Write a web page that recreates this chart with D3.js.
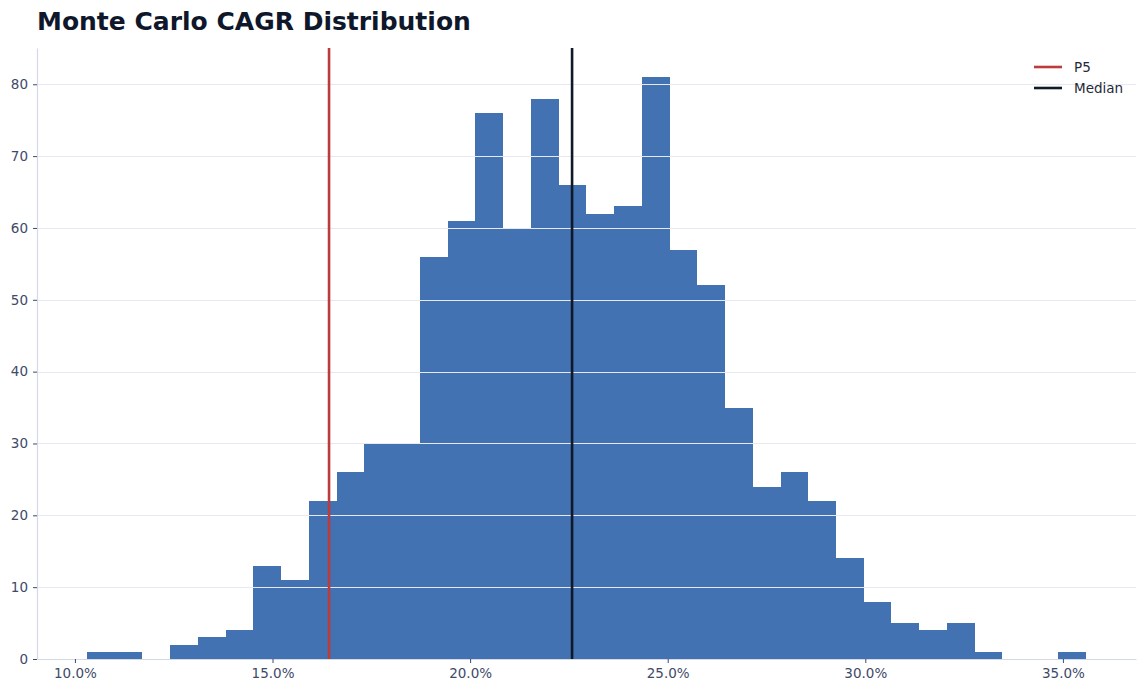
<!DOCTYPE html>
<html>
<head>
<meta charset="utf-8">
<script src="https://cdn.jsdelivr.net/npm/d3@7"></script>
<style>
  html, body { margin: 0; padding: 0; background: #ffffff; }
  svg { display: block; font-family: "DejaVu Sans", sans-serif; }
</style>
</head>
<body>
<svg id="chart" width="1146" height="693"></svg>
<script>
// ---- data ----
const titleText = "Monte Carlo CAGR Distribution";
const binEdges = [10.30, 11.00, 11.70, 12.41, 13.11, 13.81, 14.51, 15.22, 15.92, 16.62,
  17.32, 18.02, 18.73, 19.43, 20.13, 20.83, 21.54, 22.24, 22.94, 23.64, 24.34, 25.05,
  25.75, 26.45, 27.15, 27.86, 28.56, 29.26, 29.96, 30.66, 31.37, 32.07, 32.77, 33.47,
  34.18, 34.88, 35.58];
const counts = [1, 1, 0, 2, 3, 4, 13, 11, 22, 26, 30, 30, 56, 61, 76, 60, 78, 66, 62, 63,
  81, 57, 52, 35, 24, 26, 22, 14, 8, 5, 4, 5, 1, 0, 0, 1];
const refNames = ["P5", "Median"];
const refValues = [16.43, 22.58];
const refColors = ["#bb3c3c", "#111827"];
const xTicks = [10, 15, 20, 25, 30, 35];
const yTicks = [0, 10, 20, 30, 40, 50, 60, 70, 80];

// ---- layout ----
const W = 1146, H = 693;
const m = { left: 37, right: 10, top: 48, bottom: 34 };
const svg = d3.select("#chart");

const x = d3.scaleLinear().domain([9.04, 36.85]).range([m.left, W - m.right]);
const y = d3.scaleLinear().domain([0, 85.05]).range([H - m.bottom, m.top]);

// bars
const bins = counts.map((c, i) => ({ x0: binEdges[i], x1: binEdges[i + 1], c }));
svg.append("g").selectAll("rect").data(bins.filter(d => d.c > 0)).join("rect")
  .attr("x", d => x(d.x0))
  .attr("width", d => x(d.x1) - x(d.x0))
  .attr("y", d => y(d.c))
  .attr("height", d => y(0) - y(d.c))
  .attr("fill", "#4272b2")
  .attr("shape-rendering", "crispEdges");

// grid (drawn over bars)
svg.append("g").selectAll("line").data(yTicks.filter(t => t > 0)).join("line")
  .attr("x1", m.left).attr("x2", W - m.right)
  .attr("y1", d => Math.round(y(d)) + 0.5).attr("y2", d => Math.round(y(d)) + 0.5)
  .attr("stroke", "#e6e9f2").attr("stroke-width", 1);

// reference lines
svg.append("g").selectAll("line").data(refValues).join("line")
  .attr("x1", d => x(d)).attr("x2", d => x(d))
  .attr("y1", m.top).attr("y2", H - m.bottom)
  .attr("stroke", (d, i) => refColors[i]).attr("stroke-width", 2.6);

// axes
const xAxis = d3.axisBottom(x).tickValues(xTicks).tickFormat(d => d.toFixed(1) + "%")
  .tickSize(4).tickPadding(5).tickSizeOuter(0);
const gx = svg.append("g").attr("transform", `translate(0,${H - m.bottom})`).call(xAxis);
gx.select(".domain").attr("stroke", "#d3d9e6").attr("stroke-width", 1.2);
gx.selectAll(".tick line").attr("stroke", "#3e4a68");
gx.selectAll(".tick text").attr("fill", "#3e4a68").attr("font-size", 13.5)
  .attr("font-family", "DejaVu Sans, sans-serif");

const yAxis = d3.axisLeft(y).tickValues(yTicks).tickSize(4).tickPadding(5).tickSizeOuter(0);
const gy = svg.append("g").attr("transform", `translate(${m.left},0)`).call(yAxis);
gy.select(".domain").attr("stroke", "#d3d9e6").attr("stroke-width", 1.2);
gy.selectAll(".tick line").attr("stroke", "#3e4a68");
gy.selectAll(".tick text").attr("fill", "#3e4a68").attr("font-size", 13.5)
  .attr("font-family", "DejaVu Sans, sans-serif");

// title
svg.append("text").attr("x", 37).attr("y", 30)
  .attr("font-size", 25).attr("font-weight", "bold").attr("fill", "#0f172a")
  .text(titleText);

// legend
const lg = svg.append("g").attr("transform", "translate(1034,67)");
refNames.forEach((n, i) => {
  const row = lg.append("g").attr("transform", `translate(0,${i * 21})`);
  row.append("line").attr("x1", 0).attr("x2", 28).attr("y1", 0).attr("y2", 0)
    .attr("stroke", refColors[i]).attr("stroke-width", 2.6);
  row.append("text").attr("x", 40).attr("y", 0).attr("dy", "0.35em")
    .attr("font-size", 13.5).attr("fill", "#1f2937").text(n);
});
</script>
</body>
</html>
